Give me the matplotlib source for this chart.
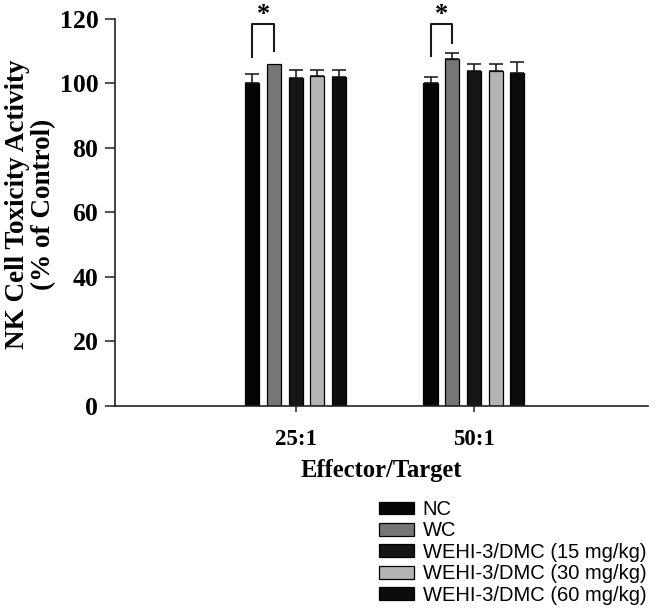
import matplotlib
matplotlib.use("Agg")
import matplotlib.pyplot as plt
import numpy as np
from matplotlib.patches import Patch

categories = ["25:1", "50:1"]
series_names = ["NC", "WC", "WEHI-3/DMC (15 mg/kg)", "WEHI-3/DMC (30 mg/kg)", "WEHI-3/DMC (60 mg/kg)"]
nc = [100.0, 100.2]
wc = [105.9, 107.7]
dmc15 = [101.7, 103.9]
dmc30 = [102.2, 103.8]
dmc60 = [102.1, 103.1]
nc_err = [2.8, 1.9]
wc_err = [0.0, 1.8]
dmc15_err = [2.6, 2.0]
dmc30_err = [1.9, 2.1]
dmc60_err = [2.2, 3.6]
# significance brackets (NC vs WC): left leg bottom, top, right leg bottom
sig_left = [108.2, 108.4]
sig_top = [118.4, 118.6]
sig_right = [110.0, 112.4]

values = [nc, wc, dmc15, dmc30, dmc60]
errors = [nc_err, wc_err, dmc15_err, dmc30_err, dmc60_err]
colors = ["#050505", "#767676", "#161616", "#b4b4b4", "#0c0c0c"]

serif = ["Liberation Serif", "DejaVu Serif"]
sans = ["Liberation Sans", "DejaVu Sans"]

fig = plt.figure(figsize=(6.57, 6.08), dpi=100)
ax = fig.add_axes([115/657, 1-405.7/608, (648-115)/657, (405.7-19)/608])

x = np.arange(len(categories))
pitch = 0.1217
width = 0.08
for i, (vals, errs, col) in enumerate(zip(values, errors, colors)):
    pos = x + (i - 2) * pitch
    ax.bar(pos, vals, width=width, color=col, edgecolor="black", linewidth=0.9,
           label=series_names[i], zorder=2)
    errs_arr = np.array(errs)
    mask = errs_arr > 0
    ax.errorbar(pos[mask], np.array(vals)[mask],
                yerr=[np.zeros(mask.sum()), errs_arr[mask]],
                fmt="none", ecolor="#111111", elinewidth=1.1, capsize=5,
                capthick=1.1, zorder=3)

# significance brackets
for g in range(len(categories)):
    xl = x[g] - 2 * pitch
    xr = x[g] - 1 * pitch
    ax.plot([xl, xl, xr, xr], [sig_left[g], sig_top[g], sig_top[g], sig_right[g]],
            color="#1a1a1a", lw=1.5, clip_on=False, zorder=4)
    ax.text((xl + xr) / 2, 125.0, "*", ha="center", va="top",
            fontsize=19, fontweight="bold", family=serif, clip_on=False)

ax.set_xlim(-1.013, 1.976)
ax.set_ylim(0, 120)
ax.set_yticks(np.arange(0, 121, 20))
ax.set_xticks(x)
ax.set_xticklabels(categories)

for s in ["top", "right"]:
    ax.spines[s].set_visible(False)
for s in ["left", "bottom"]:
    ax.spines[s].set_color("#222222")
    ax.spines[s].set_linewidth(1.2)

ax.tick_params(axis="y", direction="out", length=7, width=1.1, color="#222222", pad=5)
ax.tick_params(axis="x", direction="out", length=4.5, width=1.1, color="#222222", pad=12)
for lab in ax.get_yticklabels():
    lab.set_fontfamily(serif)
    lab.set_fontweight("bold")
    lab.set_fontsize(18.5)
for lab in ax.get_xticklabels():
    lab.set_fontfamily(serif)
    lab.set_fontweight("bold")
    lab.set_fontsize(16.5)

ax.set_xlabel("Effector/Target", fontsize=17.7, fontweight="bold", family=serif, labelpad=7)
ax.set_ylabel("NK Cell Toxicity Activity\n(% of Control)", fontsize=19.5,
              fontweight="bold", family=serif, linespacing=1.08)
ax.yaxis.set_label_coords(-0.11, 0.52)

handles = [Patch(facecolor=c, edgecolor="black", linewidth=0.9) for c in colors]
fig.legend(handles, series_names, loc="upper left",
           bbox_to_anchor=(379/657, 1 - 500/608), bbox_transform=fig.transFigure,
           frameon=False, prop={"family": sans, "size": 14.5},
           handlelength=1.72, handleheight=0.6, handletextpad=0.45,
           labelspacing=0.12, borderpad=0, borderaxespad=0)

fig.savefig("out.png", dpi=100)
